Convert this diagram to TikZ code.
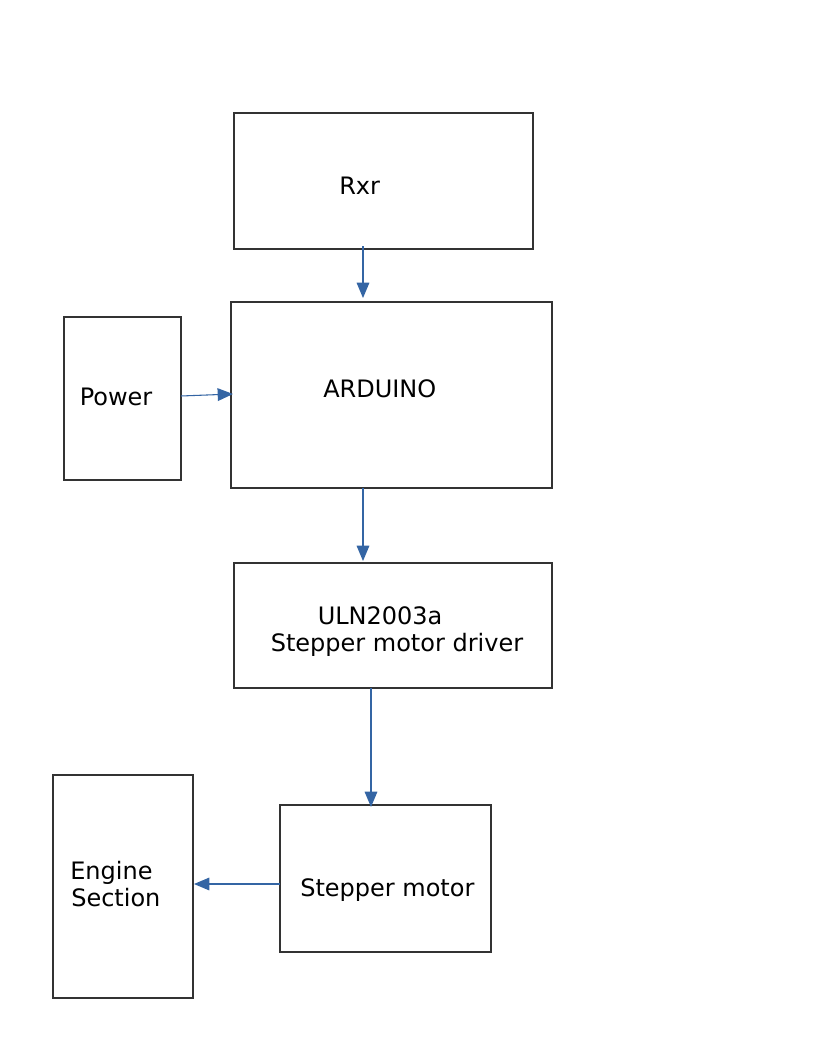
\documentclass[tikz,border=0pt]{standalone}
\usepackage{fontspec}
\setmainfont{DejaVu Sans}
\usetikzlibrary{arrows.meta}
\definecolor{arrowblue}{HTML}{3465A4}
\definecolor{boxline}{HTML}{333333}
\begin{document}
\begin{tikzpicture}[x=0.75pt,y=-0.75pt,
  blockbox/.style={draw=boxline,line width=0.9pt,inner sep=0pt,outer sep=0pt,rectangle},
  lbl/.style={anchor=base west,inner sep=0pt,font=\fontsize{18}{22}\selectfont},
  conn/.style={draw=arrowblue,line width=0.8pt,-{Triangle[length=11.5pt,width=9.5pt]}}]
\useasboundingbox[fill=white] (0,0) rectangle (816,1056);
% boxes
\node[blockbox,minimum width=224.25pt,minimum height=102pt] (rxr) at (383.5,181) {};
\node[blockbox,minimum width=240.75pt,minimum height=139.5pt] (ard) at (391.5,395) {};
\node[blockbox,minimum width=87.75pt,minimum height=122.25pt] (pow) at (122.5,398.5) {};
\node[blockbox,minimum width=238.5pt,minimum height=93.75pt] (uln) at (393,625.5) {};
\node[blockbox,minimum width=158.25pt,minimum height=110.25pt] (stm) at (385.5,878.5) {};
\node[blockbox,minimum width=105pt,minimum height=167.25pt] (eng) at (123,886.5) {};
% labels
\node[lbl] (rxrt) at (339,194) {Rxr};
\node[lbl] (ardt) at (323,397.5) {ARDUINO};
\node[lbl] (powt) at (79.5,405) {Power};
\node[lbl] (ulnt1) at (317.5,624) {ULN2003a};
\node[lbl] (ulnt2) at (270.5,651) {Stepper motor driver};
\node[lbl] (stmt) at (300,896.5) {Stepper motor};
\node[lbl] (engt1) at (70,879) {Engine};
\node[lbl] (engt2) at (71,906.5) {Section};
% connector guides
\coordinate (xa) at (363,0);
\coordinate (xb) at (371,0);
\coordinate (ya) at (0,884);
\coordinate (pa) at (181,396);
\coordinate (pb) at (233,394);
% connectors
\draw[conn] ([yshift=2.25pt]xa |- rxr.south) -- ([yshift=3pt]xa |- ard.north);
\draw[conn] (pa) -- (pb);
\draw[conn] (xa |- ard.south) -- ([yshift=1.5pt]xa |- uln.north);
\draw[conn] (xb |- uln.south) -- ([yshift=-1.5pt]xb |- stm.north);
\draw[conn] (stm.west |- ya) -- ([xshift=0.75pt]eng.east |- ya);
\end{tikzpicture}
\end{document}
